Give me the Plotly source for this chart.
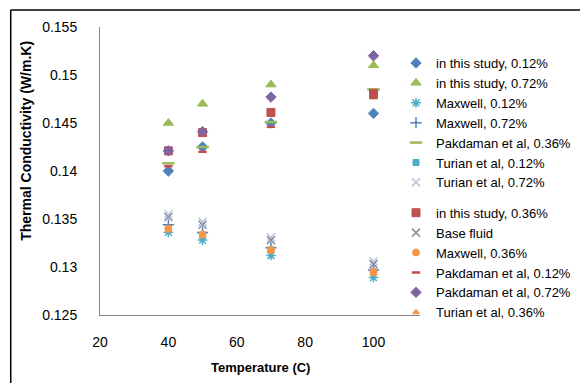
import plotly.graph_objects as go

temps = [40, 50, 70, 100]

study_012 = [0.1400, 0.1425, 0.1450, 0.1460]
study_072 = [0.1450, 0.1470, 0.1490, 0.1510]
maxwell_012 = [0.1336, 0.1328, 0.1312, 0.1289]
maxwell_072 = [0.1344, 0.1336, 0.1320, 0.1297]
pakdaman_036 = [0.1408, 0.1425, 0.1451, 0.1485]
turian_012 = [0.1340, 0.1333, 0.1318, 0.1295]
turian_072 = [0.1355, 0.1347, 0.1331, 0.1306]
study_036 = [0.1421, 0.1440, 0.1461, 0.1481]
base_fluid = [0.1352, 0.1344, 0.1328, 0.1303]
maxwell_036 = [0.1340, 0.1334, 0.1318, 0.1295]
pakdaman_012 = [0.1405, 0.1420, 0.1446, 0.1476]
pakdaman_072 = [0.1421, 0.1441, 0.1477, 0.1520]
turian_036 = [0.1338, 0.1332, 0.1316, 0.1293]

x_ticks = [20, 40, 60, 80, 100]
y_ticks = [0.125, 0.13, 0.135, 0.14, 0.145, 0.15, 0.155]
y_tick_text = ["0.125", "0.13", "0.135", "0.14", "0.145", "0.15", "0.155"]

FONT = "Liberation Sans"

series = [
    ("in this study, 0.12%", study_012, "diamond", "#4F81BD", 8, 1, "legend"),
    ("in this study, 0.72%", study_072, "triangle-up", "#9BBB59", 9, 1, "legend"),
    ("Maxwell, 0.12%", maxwell_012, "asterisk-open", "#4BACC6", 8, 1.5, "legend"),
    ("Maxwell, 0.72%", maxwell_072, "cross-thin-open", "#4F81BD", 8, 1.5, "legend"),
    ("Pakdaman et al, 0.36%", pakdaman_036, "line-ew-open", "#9BBB59", 9, 2.5, "legend"),
    ("Turian et al, 0.12%", turian_012, "square", "#4BACC6", 6, 1, "legend"),
    ("Turian et al, 0.72%", turian_072, "x-thin-open", "#B9C7DA", 8, 1.5, "legend"),
    ("in this study, 0.36%", study_036, "square", "#C0504D", 8, 1, "legend2"),
    ("Base fluid", base_fluid, "x-thin-open", "#8D8BA8", 8, 1.5, "legend2"),
    ("Maxwell, 0.36%", maxwell_036, "circle", "#F79646", 7, 1, "legend2"),
    ("Pakdaman et al, 0.12%", pakdaman_012, "line-ew-open", "#C0504D", 6, 2.5, "legend2"),
    ("Pakdaman et al, 0.72%", pakdaman_072, "diamond", "#8064A2", 8, 1, "legend2"),
    ("Turian et al, 0.36%", turian_036, "triangle-up", "#F79646", 6, 1, "legend2"),
]

fig = go.Figure()
for name, vals, sym, col, size, lw, lg in series:
    fig.add_trace(go.Scatter(
        x=temps, y=vals, mode="markers", name=name, legend=lg,
        marker=dict(symbol=sym, color=col, size=size,
                    line=dict(color=col, width=lw)),
    ))

fig.update_layout(
    width=580, height=375,
    margin=dict(l=92, r=165, t=19, b=68),
    paper_bgcolor="white", plot_bgcolor="white",
    font=dict(family=FONT, size=12, color="#000000"),
    showlegend=True,
    legend=dict(x=0.925, y=0.927, xanchor="left", yanchor="top",
                bgcolor="rgba(0,0,0,0)", font=dict(size=13, color="#000000"),
                tracegroupgap=0),
    legend2=dict(x=0.925, y=0.407, xanchor="left", yanchor="top",
                 bgcolor="rgba(0,0,0,0)", font=dict(size=13, color="#000000"),
                 tracegroupgap=0),
    xaxis=dict(range=[20, 113.6], tickvals=x_ticks, showgrid=False, zeroline=False,
               showline=True, linecolor="#868686", linewidth=1,
               ticks="", ticklabelstandoff=14,
               tickfont=dict(family=FONT, size=14, color="#000000")),
    yaxis=dict(range=[0.125, 0.155], tickvals=y_ticks, ticktext=y_tick_text,
               showgrid=False, zeroline=False,
               showline=True, linecolor="#868686", linewidth=1,
               ticks="", ticklabelstandoff=19,
               tickfont=dict(family=FONT, size=14, color="#000000")),
    annotations=[
        dict(text="<b>Thermal Conductivity (W/m.K)</b>", xref="paper", yref="paper",
             x=-0.232, y=0.604, xanchor="center", yanchor="middle",
             textangle=-90, showarrow=False,
             font=dict(family=FONT, size=14, color="#000000")),
        dict(text="<b>Temperature (C)</b>", xref="paper", yref="paper",
             x=0.5, y=-0.181, xanchor="center", yanchor="middle", showarrow=False,
             font=dict(family=FONT, size=13, color="#000000")),
    ],
    shapes=[
        dict(type="line", xref="paper", yref="paper", x0=-0.279, x1=1.6,
             y0=1.059, y1=1.059, line=dict(color="#000000", width=1.5)),
        dict(type="line", xref="paper", yref="paper", x0=-0.279, x1=-0.279,
             y0=1.059, y1=-0.3, line=dict(color="#000000", width=1.5)),
        dict(type="line", xref="paper", yref="paper", x0=1.506, x1=1.506,
             y0=1.059, y1=-0.3, line=dict(color="#BFBFBF", width=1)),
    ],
)

fig.write_html("out.html")
